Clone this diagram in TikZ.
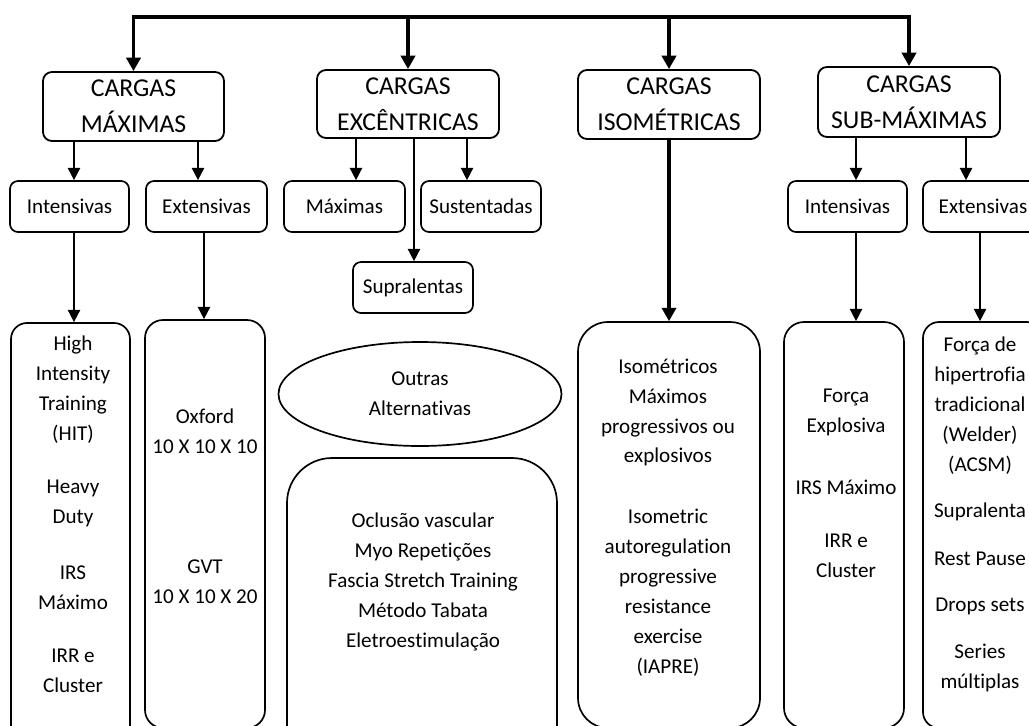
\documentclass[tikz,border=0pt]{standalone}
\usepackage{fontspec}
\setmainfont{Carlito}[Ligatures={NoCommon,NoRare,NoContextual}]
\usetikzlibrary{arrows.meta,shapes.geometric}
\newlength{\du}
\setlength{\du}{0.025cm}
\tikzset{
  topbox/.style={draw, rounded corners=9\du, line width=1.3pt, minimum width=182\du,
    minimum height=69\du, inner sep=0pt, align=center, font=\fontsize{18.3}{25.6}\selectfont},
  subbox/.style={draw, rounded corners=8\du, line width=1.2pt, minimum width=120\du,
    minimum height=51\du, inner sep=0pt, align=center, font=\fontsize{15}{21.3}\selectfont},
  tallbox/.style={draw, rounded corners=#1, line width=1.2pt, inner sep=0pt},
  tallbox/.default=16\du,
  itemtext/.style={inner sep=0pt, align=center, font=\fontsize{15}{21.3}\selectfont},
  arr/.style={line width=1.1pt, -{Triangle[width=8.8pt,length=8.8pt]}},
  bigarr/.style={line width=2.8pt, -{Triangle[width=10pt,length=9.5pt]}},
}

\begin{document}
\begin{tikzpicture}
\pgftransformyscale{-1.000000}
\clip (0\du,0\du) rectangle (1029\du,725\du);
% top row
\coordinate (bus) at (0\du,17\du);
\node[topbox, minimum width=181\du] (maxi) at (133.5\du,106.5\du) {CARGAS\\MÁXIMAS};
\node[topbox, minimum height=68\du] (exce) at (408\du,104\du) {CARGAS\\EXCÊNTRICAS};
\node[topbox] (isom) at (669\du,104.5\du) {CARGAS\\ISOMÉTRICAS};
\node[topbox, minimum height=70\du] (subm) at (909\du,102\du) {CARGAS\\SUB-MÁXIMAS};
\draw[bigarr] (exce.north |- bus) -- (maxi.north |- bus) -- (maxi.north);
\draw[bigarr] (exce.north |- bus) -- (subm.north |- bus) -- (subm.north);
\draw[bigarr] (exce.north |- bus) -- (exce.north);
\draw[bigarr] (isom.north |- bus) -- (isom.north);
% second row
\node[subbox, minimum width=119\du] (int1) at (69.5\du,206.5\du) {Intensivas};
\node[subbox, minimum width=121\du] (ext1) at (206.5\du,206.5\du) {Extensivas};
\node[subbox, minimum width=121\du] (maxs) at (344.5\du,206.5\du) {Máximas};
\node[subbox] (sust) at (481\du,206.5\du) {Sustentadas};
\node[subbox] (supr) at (413\du,287.5\du) {Supralentas};
\node[subbox, minimum width=119\du] (int2) at (847.5\du,206.5\du) {Intensivas};
\node[subbox] (ext2) at (983\du,206.5\du) {Extensivas};
\draw[arr] ([xshift=-59.5\du]maxi.south) -- ([xshift=4.5\du]int1.north);
\draw[arr] ([xshift=64.5\du]maxi.south) -- ([xshift=-8.5\du]ext1.north);
\draw[arr] ([xshift=-52\du]exce.south) -- ([xshift=11.5\du]maxs.north);
\draw[arr] ([xshift=59\du]exce.south) -- ([xshift=-14\du]sust.north);
\draw[arr] ([xshift=6\du]exce.south) -- ([xshift=1\du]supr.north);
\draw[arr] ([xshift=-53\du]subm.south) -- ([xshift=8.5\du]int2.north);
\draw[arr] ([xshift=57\du]subm.south) -- ([xshift=-17\du]ext2.north);
% bottom row
\node[tallbox, minimum width=119\du, minimum height=422\du] (hitbox) at (70.5\du,534\du) {};
\node[itemtext] (hit) at (73\du,389.5\du) {High\\Intensity\\Training\\(HIT)};
\node[itemtext] (heavy) at (73\du,503\du) {Heavy\\Duty};
\node[itemtext] (irs1) at (73\du,587.5\du) {IRS\\Máximo};
\node[itemtext] (irr1) at (73\du,671\du) {IRR e\\Cluster};
\node[tallbox=18\du, minimum width=120\du, minimum height=408\du] (oxbox) at (205\du,524\du) {};
\node[itemtext] (oxford) at (205\du,431\du) {Oxford\\10 X 10 X 10};
\node[itemtext] (gvt) at (205\du,581.5\du) {GVT\\10 X 10 X 20};
\node[draw, ellipse, line width=1.2pt, minimum width=283\du, minimum height=104\du, itemtext]
  (alt) at (420\du,394\du) {Outras\\Alternativas};
\node[tallbox=45\du, minimum width=270\du, minimum height=320\du] (othbox) at (422\du,618\du) {};
\node[itemtext] (outras) at (423\du,582\du)
  {Oclusão vascular\\Myo Repetições\\Fascia Stretch Training\\Método Tabata\\Eletroestimulação};
\node[tallbox=30\du, minimum width=182\du, minimum height=406\du] (isobox) at (669\du,525\du) {};
\node[itemtext] (isomax) at (668\du,412.5\du) {Isométricos\\Máximos\\progressivos ou\\explosivos};
\node[itemtext] (iapre) at (668\du,593\du)
  {Isometric\\autoregulation\\progressive\\resistance\\exercise\\(IAPRE)};
\node[tallbox=20\du, minimum width=120\du, minimum height=406\du] (int2box) at (844\du,525\du) {};
\node[itemtext] (explo) at (846\du,412\du) {Força\\Explosiva};
\node[itemtext] (irs2) at (846\du,487\du) {IRS Máximo};
\node[itemtext] (irr2) at (846\du,556\du) {IRR e\\Cluster};
\node[tallbox, minimum width=120\du, minimum height=406\du] (ext2box) at (983\du,525\du) {};
\node[itemtext] (hipert) at (980\du,405.5\du) {Força de\\hipertrofia\\tradicional\\(Welder)\\(ACSM)};
\node[itemtext] (suprl) at (980\du,512\du) {Supralenta};
\node[itemtext] (rest) at (980\du,559\du) {Rest Pause};
\node[itemtext] (drops) at (980\du,606\du) {Drops sets};
\node[itemtext] (series) at (980\du,668\du) {Series\\múltiplas};
\draw[arr] ([xshift=4.5\du]int1.south) -- ([xshift=3.5\du]hitbox.north);
\draw[arr] ([xshift=-2.5\du]ext1.south) -- ([xshift=-1\du]oxbox.north);
\draw[bigarr] (isom.south) -- (isobox.north);
\draw[arr] ([xshift=8.5\du]int2.south) -- ([xshift=12\du]int2box.north);
\draw[arr] ([xshift=-3\du]ext2.south) -- ([xshift=-3\du]ext2box.north);
\end{tikzpicture}
\end{document}
